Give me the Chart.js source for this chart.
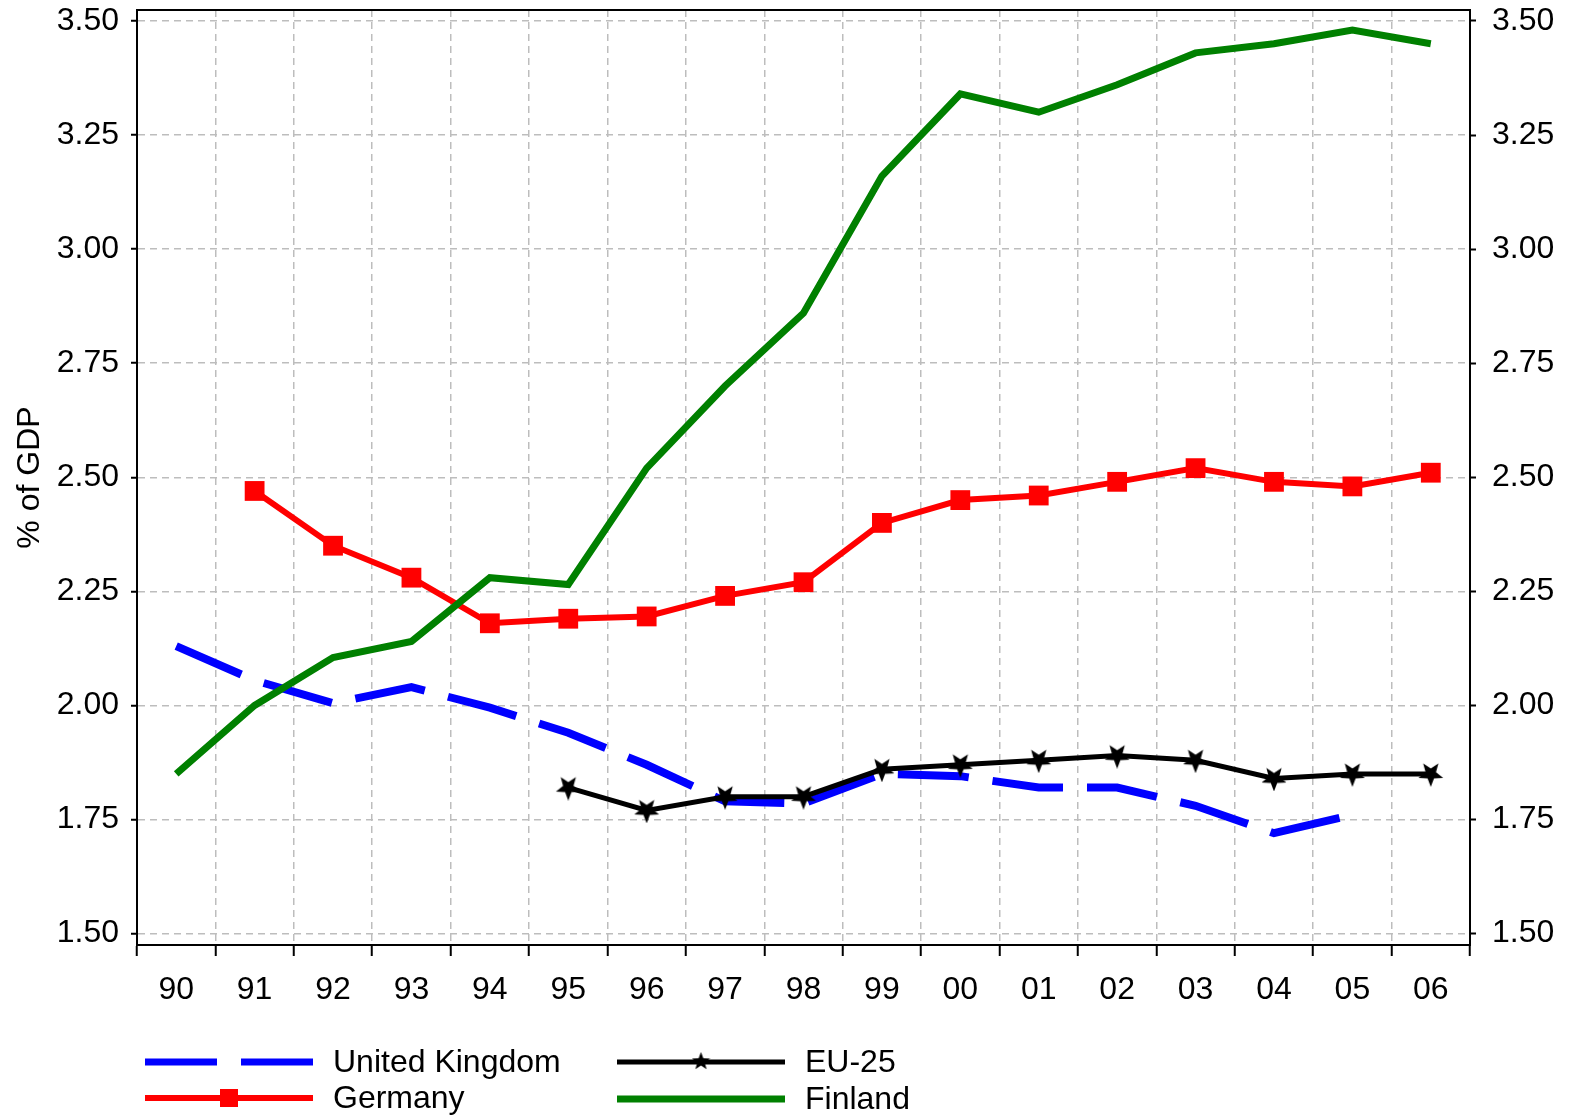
<!DOCTYPE html>
<html>
<head>
<meta charset="utf-8">
<title>R&D expenditure, % of GDP</title>
<script src="https://cdn.jsdelivr.net/npm/chart.js@4.4.1/dist/chart.umd.min.js"></script>
<style>
  html, body { margin: 0; padding: 0; background: #fff; }
  #wrap { width: 1571px; height: 1116px; position: relative; }
</style>
</head>
<body>
<div id="wrap"><canvas id="gdpChart"></canvas></div>
<script>
const years = ['90', '91', '92', '93', '94', '95', '96', '97', '98', '99', '00', '01', '02', '03', '04', '05', '06'];
const ukValues = [2.13, 2.055, 2.005, 2.04, 1.995, 1.94, 1.87, 1.79, 1.785, 1.85, 1.845, 1.82, 1.82, 1.78, 1.72, 1.76, null];
const germanyValues = [null, 2.47, 2.35, 2.28, 2.18, 2.19, 2.195, 2.24, 2.27, 2.40, 2.45, 2.46, 2.49, 2.52, 2.49, 2.48, 2.51];
const euValues = [null, null, null, null, null, 1.82, 1.77, 1.80, 1.80, 1.86, 1.87, 1.88, 1.89, 1.88, 1.84, 1.85, 1.85];
const finlandValues = [1.85, 2.00, 2.105, 2.14, 2.28, 2.265, 2.52, 2.70, 2.86, 3.16, 3.34, 3.30, 3.36, 3.43, 3.45, 3.48, 3.45];
const yTicks = [1.50, 1.75, 2.00, 2.25, 2.50, 2.75, 3.00, 3.25, 3.50];

Chart.defaults.font.family = '"Liberation Sans", Arial, sans-serif';
Chart.defaults.font.size = 32;
Chart.defaults.color = '#000';

// five-pointed star marker
function makeStar(size, flip) {
  const c = document.createElement('canvas');
  c.width = size; c.height = size;
  const g = c.getContext('2d');
  const R = size / 2, r = R * 0.42;
  g.translate(R, R);
  if (flip) g.rotate(Math.PI);
  g.beginPath();
  for (let i = 0; i < 10; i++) {
    const a = -Math.PI / 2 + i * Math.PI / 5;
    const rad = i % 2 ? r : R;
    g.lineTo(Math.cos(a) * rad, Math.sin(a) * rad);
  }
  g.closePath();
  g.fillStyle = '#000';
  g.fill();
  return c;
}
const starPoint = makeStar(26, true);
const starLegend = makeStar(19, false);

const gridGray = '#bdbdbd';

const legendPlugin = {
  id: 'sideLegend',
  afterDraw(chart) {
    const ctx = chart.ctx;
    const items = [
      { x: 145, y: 1062, text: 'United Kingdom', color: '#0000ff', width: 7, dash: [72, 24] },
      { x: 145, y: 1098, text: 'Germany', color: '#ff0000', width: 6, marker: 'rect' },
      { x: 617, y: 1062, text: 'EU-25', color: '#000', width: 5, marker: 'star' },
      { x: 617, y: 1099, text: 'Finland', color: '#008000', width: 7 }
    ];
    ctx.save();
    // frame top line
    const a = chart.chartArea;
    ctx.strokeStyle = '#000';
    ctx.lineWidth = 2;
    ctx.beginPath();
    ctx.moveTo(a.left, a.top);
    ctx.lineTo(a.right, a.top);
    ctx.stroke();

    items.forEach(it => {
      const len = 168;
      ctx.strokeStyle = it.color;
      ctx.lineWidth = it.width;
      ctx.setLineDash(it.dash || []);
      ctx.beginPath();
      ctx.moveTo(it.x, it.y);
      ctx.lineTo(it.x + len, it.y);
      ctx.stroke();
      ctx.setLineDash([]);
      const cx = it.x + len / 2;
      if (it.marker === 'rect') {
        ctx.fillStyle = it.color;
        ctx.fillRect(cx - 9, it.y - 9, 18, 18);
      } else if (it.marker === 'star') {
        ctx.drawImage(starLegend, cx - 9.5, it.y - 10);
      }
      ctx.fillStyle = '#000';
      ctx.font = '32px "Liberation Sans", Arial, sans-serif';
      ctx.textBaseline = 'middle';
      ctx.textAlign = 'left';
      ctx.fillText(it.text, it.x + len + 20, it.y + 1);
    });
    ctx.restore();
  }
};

const noPad = (s) => { s.paddingTop = 0; s.paddingBottom = 0; };

const yScaleBase = {
  type: 'linear',
  min: 1.475,
  max: 3.524,
  afterBuildTicks: (axis) => { axis.ticks = yTicks.map(v => ({ value: v })); },
  border: { display: true, color: '#000', width: 2, dash: [7, 5] },
};

new Chart(document.getElementById('gdpChart'), {
  type: 'line',
  data: {
    labels: years,
    datasets: [
      {
        label: 'United Kingdom',
        data: ukValues,
        borderColor: '#0000ff',
        borderWidth: 8,
        borderDash: [71, 24],
        pointRadius: 0,
        order: 3
      },
      {
        label: 'Germany',
        data: germanyValues,
        borderColor: '#ff0000',
        backgroundColor: '#ff0000',
        borderWidth: 6,
        pointStyle: 'rect',
        pointRadius: 14,
        pointBorderWidth: 0,
        order: 2
      },
      {
        label: 'EU-25',
        data: euValues,
        borderColor: '#000',
        borderWidth: 5,
        pointStyle: starPoint,
        pointRadius: 13,
        order: 1
      },
      {
        label: 'Finland',
        data: finlandValues,
        borderColor: '#008000',
        borderWidth: 7,
        pointRadius: 0,
        order: 0
      }
    ]
  },
  options: {
    responsive: true,
    maintainAspectRatio: false,
    animation: false,
    layout: { autoPadding: false, padding: { top: 10, left: 0, right: 0, bottom: 0 } },
    elements: { line: { tension: 0, fill: false } },
    plugins: {
      legend: { display: false },
      tooltip: { enabled: false }
    },
    scales: {
      x: {
        type: 'category',
        offset: true,
        grid: {
          offset: true,
          color: gridGray,
          lineWidth: 1.5,
          tickLength: 11,
          tickColor: '#000',
          tickWidth: 2,
          tickBorderDash: []
        },
        border: { display: true, color: '#000', width: 2, dash: [7, 5] },
        ticks: { padding: 15, maxRotation: 0, autoSkip: false },
        afterFit: (s) => { s.height = 171; s.paddingLeft = 0; s.paddingRight = 0; }
      },
      y: {
        ...yScaleBase,
        position: 'left',
        grid: {
          color: gridGray,
          lineWidth: 1.5,
          tickLength: 6,
          tickColor: '#000',
          tickWidth: 2,
          tickBorderDash: []
        },
        ticks: { padding: 12, callback: (v) => Number(v).toFixed(2) },
        title: { display: true, text: '% of GDP', padding: { top: 11, bottom: 0 } },
        afterFit: (s) => { s.width = 137; noPad(s); }
      },
      y2: {
        ...yScaleBase,
        position: 'right',
        grid: {
          drawOnChartArea: false,
          tickLength: 6,
          tickColor: '#000',
          tickWidth: 2,
          tickBorderDash: []
        },
        ticks: { padding: 16, callback: (v) => Number(v).toFixed(2) },
        afterFit: (s) => { s.width = 101; noPad(s); }
      }
    }
  },
  plugins: [legendPlugin]
});
</script>
</body>
</html>
